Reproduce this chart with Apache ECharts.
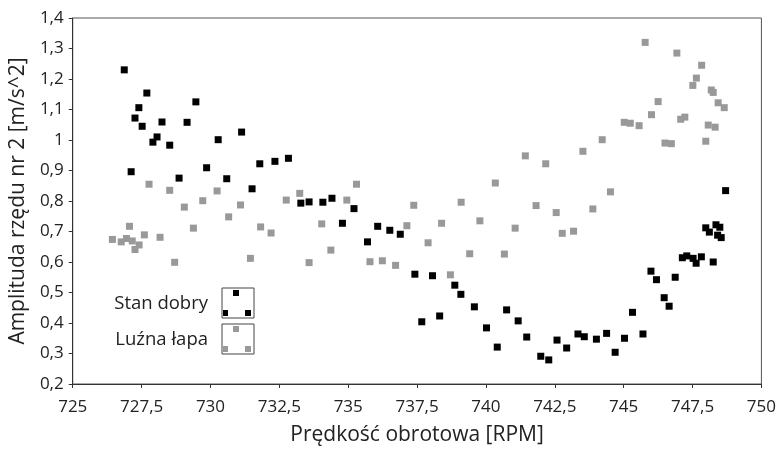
<!DOCTYPE html>
<html>
<head>
<meta charset="utf-8">
<script src="https://cdn.jsdelivr.net/npm/echarts@6/dist/echarts.min.js"></script>
<style>html,body{margin:0;padding:0;background:#fff}#c{width:779px;height:451px}</style>
</head>
<body>
<div id="c"></div>
<script>
// Stan dobry (black)
const dobryX = [726.87,727.12,727.26,727.40,727.52,727.69,727.91,728.06,728.24,728.52,728.86,729.15,729.47,729.86,730.28,730.59,731.13,731.51,731.79,732.34,732.83,733.28,733.58,734.08,734.41,734.79,735.21,735.70,736.07,736.51,736.89,737.42,737.67,738.06,738.32,738.87,739.09,739.58,740.02,740.41,740.75,741.17,741.48,741.99,742.28,742.58,742.93,743.34,743.57,744.01,744.38,744.69,745.03,745.32,745.70,745.99,746.19,746.47,746.65,746.87,747.13,747.29,747.52,747.63,747.82,747.98,748.11,748.25,748.35,748.41,748.49,748.54,748.70];
const dobryY = [1.230,0.896,1.072,1.106,1.045,1.154,0.993,1.010,1.059,0.983,0.875,1.058,1.125,0.909,1.001,0.873,1.026,0.840,0.922,0.930,0.940,0.793,0.797,0.796,0.809,0.727,0.775,0.666,0.717,0.704,0.691,0.560,0.404,0.555,0.423,0.524,0.494,0.453,0.384,0.321,0.443,0.407,0.354,0.291,0.279,0.344,0.318,0.364,0.355,0.347,0.366,0.304,0.350,0.435,0.364,0.570,0.542,0.483,0.455,0.550,0.614,0.620,0.612,0.596,0.617,0.712,0.698,0.600,0.722,0.688,0.714,0.680,0.834];
// Luźna łapa (grey)
const luznaX = [726.44,726.76,726.95,727.06,727.16,727.26,727.41,727.60,727.77,728.17,728.52,728.70,729.05,729.38,729.72,730.24,730.66,731.09,731.45,731.82,732.20,732.75,733.24,733.58,734.04,734.37,734.95,735.30,735.79,736.24,736.72,737.13,737.38,737.90,738.39,738.71,739.10,739.41,739.78,740.34,740.67,741.06,741.43,741.82,742.17,742.55,742.77,743.18,743.52,743.88,744.22,744.52,745.02,745.24,745.56,745.78,746.01,746.25,746.50,746.73,746.93,747.07,747.22,747.51,747.64,747.83,747.98,748.07,748.18,748.25,748.32,748.43,748.65];
const luznaY = [0.674,0.666,0.677,0.717,0.669,0.641,0.656,0.689,0.855,0.681,0.835,0.599,0.780,0.711,0.801,0.833,0.748,0.787,0.612,0.715,0.695,0.803,0.825,0.598,0.725,0.639,0.803,0.855,0.601,0.604,0.589,0.719,0.786,0.663,0.727,0.558,0.796,0.627,0.735,0.859,0.626,0.711,0.948,0.785,0.922,0.762,0.694,0.701,0.963,0.774,1.001,0.830,1.058,1.055,1.047,1.320,1.083,1.126,0.990,0.988,1.285,1.068,1.075,1.179,1.203,1.245,0.996,1.049,1.164,1.156,1.042,1.122,1.106];

const seriesNames = ['Stan dobry', 'Luźna łapa'];
const xTitle = 'Prędkość obrotowa [RPM]';
const yTitle = 'Amplituda rzędu nr 2 [m/s^2]';

const FONT = 'Open Sans';
const comma = v => String(Number(v.toFixed(2))).replace('.', ',');
const pairs = (xs, ys) => xs.map((x, i) => [x, ys[i]]);

const chart = echarts.init(document.getElementById('c'), null, {renderer: 'canvas'});

function legendEntry(label, color, top) {
  const bx = 222, bw = 32, bh = 30;
  return [
    {type: 'text', right: 779 - 208, top: top + 6, style: {text: label, font: '18.5px "' + FONT + '"', fill: '#222', textAlign: 'right'}},
    {type: 'rect', shape: {x: bx, y: top, width: bw, height: bh}, style: {fill: 'none', stroke: '#444', lineWidth: 1}},
    {type: 'rect', shape: {x: 233, y: top + 2, width: 6, height: 6}, style: {fill: color}},
    {type: 'rect', shape: {x: bx + 1, y: top + bh - 8, width: 5, height: 6}, style: {fill: color}},
    {type: 'rect', shape: {x: 245, y: top + bh - 8, width: 6, height: 6}, style: {fill: color}}
  ];
}

chart.setOption({
  animation: false,
  textStyle: {fontFamily: FONT},
  grid: {left: 72.5, right: 16.5, top: 18, bottom: 66, show: true, borderColor: '#555', borderWidth: 1, containLabel: false},
  xAxis: {
    type: 'value', min: 725, max: 750, interval: 2.5,
    name: xTitle, nameLocation: 'middle', nameGap: 41,
    nameTextStyle: {fontSize: 21, color: '#222', fontFamily: FONT},
    axisLine: {show: true, lineStyle: {color: '#333'}},
    axisTick: {show: true, length: 4, lineStyle: {color: '#333'}},
    axisLabel: {fontSize: 17, color: '#222', margin: 15, formatter: comma, fontFamily: FONT},
    splitLine: {show: false}
  },
  yAxis: {
    type: 'value', min: 0.2, max: 1.4, interval: 0.1,
    name: yTitle, nameLocation: 'middle', nameGap: 42, nameRotate: 90,
    nameTextStyle: {fontSize: 21, color: '#222', fontFamily: FONT},
    axisLine: {show: true, lineStyle: {color: '#333'}},
    axisTick: {show: true, length: 4, lineStyle: {color: '#333'}},
    axisLabel: {fontSize: 17, color: '#222', margin: 9, formatter: comma, fontFamily: FONT},
    splitLine: {show: false}
  },
  series: [
    {name: seriesNames[0], type: 'scatter', symbol: 'rect', symbolSize: 7, itemStyle: {color: '#000', opacity: 1}, data: pairs(dobryX, dobryY), z: 3},
    {name: seriesNames[1], type: 'scatter', symbol: 'rect', symbolSize: 7, itemStyle: {color: '#999', opacity: 1}, data: pairs(luznaX, luznaY), z: 2}
  ],
  graphic: [].concat(legendEntry(seriesNames[0], '#000', 288), legendEntry(seriesNames[1], '#999', 324))
});
</script>
</body>
</html>
